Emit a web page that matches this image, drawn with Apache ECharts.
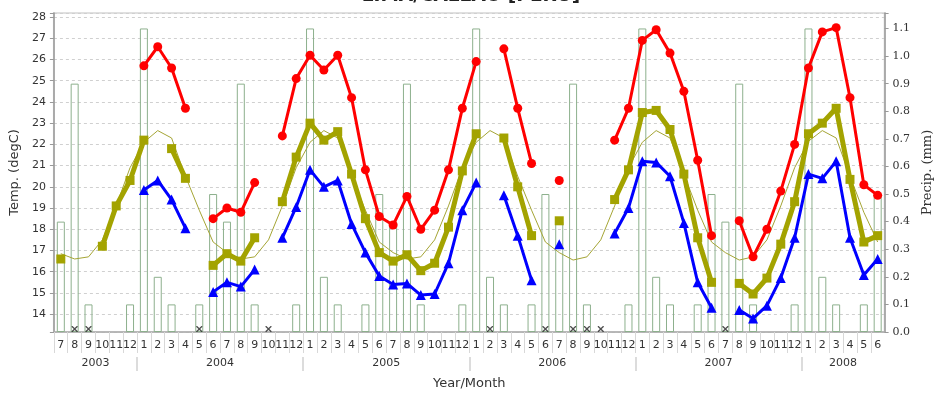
<!DOCTYPE html>
<html><head><meta charset="utf-8">
<script src="https://cdn.jsdelivr.net/npm/echarts@6/dist/echarts.min.js"></script>
<style>html,body{margin:0;padding:0;background:#fff}#c{width:942px;height:395px}</style>
</head><body><div id="c"></div>
<script>
const months = ['7','8','9','10','11','12',
  '1','2','3','4','5','6','7','8','9','10','11','12',
  '1','2','3','4','5','6','7','8','9','10','11','12',
  '1','2','3','4','5','6','7','8','9','10','11','12',
  '1','2','3','4','5','6','7','8','9','10','11','12',
  '1','2','3','4','5','6'];
const years = ['2003','2004','2005','2006','2007','2008'];

const precip = [0.4,0.9,0.1,0,0,0.1,
  1.1,0.2,0.1,0,0.1,0.5,0.4,0.9,0.1,0,0,0.1,
  1.1,0.2,0.1,0,0.1,0.5,0.4,0.9,0.1,0,0,0.1,
  1.1,0.2,0.1,0,0.1,0.5,0.4,0.9,0.1,0,0,0.1,
  1.1,0.2,0.1,0,0.1,0.5,0.4,0.9,0.1,0,0,0.1,
  1.1,0.2,0.1,0,0.1,0.5];

const tMax = [null,null,null,null,null,null,
  25.7,26.6,25.6,23.7,null,18.5,19.0,18.8,20.2,null,22.4,25.1,
  26.2,25.5,26.2,24.2,20.8,18.6,18.2,19.55,18.0,18.9,20.8,23.7,
  25.9,null,26.5,23.7,21.1,null,20.3,null,null,null,22.2,23.7,
  26.9,27.4,26.3,24.5,21.25,17.7,null,18.4,16.7,18.0,19.8,22.0,
  25.6,27.3,27.5,24.2,20.1,19.6];

const tMean = [16.6,null,null,17.2,19.1,20.3,
  22.2,null,21.8,20.4,null,16.3,16.85,16.5,17.6,null,19.3,21.4,
  23.0,22.2,22.6,20.6,18.5,16.9,16.5,16.8,16.05,16.4,18.1,20.75,
  22.5,null,22.3,20.0,17.7,null,18.4,null,null,null,19.4,20.8,
  23.5,23.6,22.7,20.6,17.6,15.5,null,15.45,14.95,15.7,17.3,19.3,
  22.5,23.0,23.7,20.35,17.4,17.7];

const tMin = [null,null,null,null,null,null,
  19.85,20.3,19.4,18.05,null,15.05,15.5,15.3,16.1,null,17.6,19.05,
  20.8,20.0,20.3,18.25,16.9,15.8,15.4,15.45,14.9,14.95,16.4,18.9,
  20.2,null,19.6,17.7,15.6,null,17.3,null,null,null,17.8,19.0,
  21.2,21.15,20.5,18.3,15.5,14.3,null,14.2,13.8,14.4,15.7,17.6,
  20.6,20.4,21.2,17.6,15.85,16.6];

const tNormal = [16.85,16.6,16.7,17.5,19.1,20.9,
  22.1,22.65,22.3,20.5,18.9,17.4,16.9,16.6,16.7,17.5,19.1,20.9,
  22.1,22.65,22.3,20.5,18.9,17.4,16.9,16.6,16.7,17.5,19.1,20.9,
  22.1,22.65,22.3,20.5,18.9,17.4,16.9,16.55,16.7,17.5,19.1,20.9,
  22.1,22.65,22.3,20.6,18.9,17.4,16.9,16.55,16.7,17.5,19.1,20.9,
  22.15,22.65,22.3,20.5,18.8,17.4];

// derived helpers
const yearStarts = [0];
months.forEach((m, i) => { if (m === '1' && i > 0) yearStarts.push(i); });
const yearEnds = yearStarts.slice(1).concat([months.length]);
const yearCenters = yearStarts.map((s, k) => (s + yearEnds[k]) / 2);
const yearBounds = yearStarts.slice(1);
const missing = months.map((m, i) =>
  (tMax[i] == null && tMean[i] == null && tMin[i] == null) ? 0 : null);

const OLIVE = '#a3a300';
const chart = echarts.init(document.getElementById('c'));
chart.setOption({
  animation: false,
  backgroundColor: '#fff',
  title: {
    text: 'LIMA/CALLAO [PERU]', left: 'center', top: -18,
    textStyle: { fontSize: 18.5, fontWeight: 'bold', color: '#222', fontFamily: 'DejaVu Sans' }
  },
  grid: { left: 53, right: 49, top: 13, bottom: 59, show: true, borderColor: '#e0e0e0', borderWidth: 2 },
  xAxis: [
    {
      type: 'category', data: months, boundaryGap: true,
      axisLine: { lineStyle: { color: '#aaa', width: 1.5 } },
      axisTick: { show: true, interval: 0, length: 21, lineStyle: { color: '#d8d8d8' } },
      axisLabel: { interval: 0, margin: 8, fontSize: 11, color: '#333', fontFamily: 'DejaVu Sans', hideOverlap: false },
      splitLine: { show: false },
      name: 'Year/Month', nameLocation: 'middle', nameGap: 45,
      nameTextStyle: { fontSize: 13, color: '#333', fontFamily: 'DejaVu Sans' }
    },
    {
      type: 'value', position: 'bottom', offset: 25, min: 0, max: months.length,
      axisLine: { show: false },
      axisTick: { show: true, customValues: yearBounds, length: 14, lineStyle: { color: '#dcdcdc', width: 2 } },
      axisLabel: {
        customValues: yearCenters, margin: 1, fontSize: 11, color: '#333', fontFamily: 'DejaVu Sans',
        formatter: v => { const k = yearCenters.indexOf(v); return k >= 0 ? years[k] : ''; }
      },
      splitLine: { show: false }
    }
  ],
  yAxis: [
    {
      type: 'value', min: 13.16, max: 28.19, splitNumber: 15, position: 'left',
      axisLine: { show: true, lineStyle: { color: '#999', width: 1.5 } },
      axisTick: { show: true, length: 4, lineStyle: { color: '#999' } },
      axisLabel: {
        fontSize: 11, color: '#333', margin: 8, fontFamily: 'DejaVu Sans',
        formatter: v => (Math.abs(v - Math.round(v)) < 1e-6 ? String(Math.round(v)) : '')
      },
      splitLine: { show: true, lineStyle: { color: '#d0d0d0', type: [3, 3] } },
      name: 'Temp. (degC)', nameLocation: 'middle', nameGap: 30,
      nameTextStyle: { fontSize: 13, color: '#333', fontFamily: 'DejaVu Sans' }
    },
    {
      type: 'value', min: 0, max: 1.156, splitNumber: 11, position: 'right',
      axisLine: { show: true, lineStyle: { color: '#999', width: 1.5 } },
      axisTick: { show: true, length: 4, lineStyle: { color: '#999' } },
      axisLabel: {
        fontSize: 11, color: '#333', margin: 8, fontFamily: 'DejaVu Serif',
        formatter: v => (v > 1.1 + 1e-6 ? '' : v.toFixed(1))
      },
      splitLine: { show: false },
      name: 'Precip. (mm)', nameLocation: 'middle', nameGap: 32,
      nameTextStyle: { fontSize: 13, color: '#333', fontFamily: 'DejaVu Serif' }
    }
  ],
  series: [
    {
      type: 'bar', name: 'Precip.', xAxisIndex: 0, yAxisIndex: 1,
      data: precip.map(v => (v > 0 ? v : null)), barWidth: 8, silent: true,
      itemStyle: { color: 'rgba(255,255,255,0)', borderColor: '#8db08d', borderWidth: 1 }
    },
    {
      type: 'scatter', name: 'missing', xAxisIndex: 0, yAxisIndex: 1, data: missing,
      symbol: 'path://M0,0L1.5,0L5,3.5L8.5,0L10,0L10,1.5L6.5,5L10,8.5L10,10L8.5,10L5,6.5L1.5,10L0,10L0,8.5L3.5,5L0,1.5Z',
      symbolSize: 6, symbolOffset: [0, -3], itemStyle: { color: '#222' }, z: 6, silent: true
    },
    {
      type: 'line', name: 'Normal', data: tNormal, symbol: 'none', showSymbol: false,
      lineStyle: { color: '#a5a535', width: 1 }, z: 3, silent: true
    },
    {
      type: 'line', name: 'Max', data: tMax, symbol: 'circle', symbolSize: 9, showAllSymbol: true,
      lineStyle: { color: '#ff0000', width: 3 }, itemStyle: { color: '#ff0000' }, z: 4, silent: true
    },
    {
      type: 'line', name: 'Mean', data: tMean, symbol: 'rect', symbolSize: 9, showAllSymbol: true,
      lineStyle: { color: OLIVE, width: 5 }, itemStyle: { color: OLIVE }, z: 4, silent: true
    },
    {
      type: 'line', name: 'Min', data: tMin, symbol: 'triangle', symbolSize: 10, showAllSymbol: true,
      lineStyle: { color: '#0000ff', width: 3 }, itemStyle: { color: '#0000ff' }, z: 4, silent: true
    }
  ]
});
</script></body></html>
